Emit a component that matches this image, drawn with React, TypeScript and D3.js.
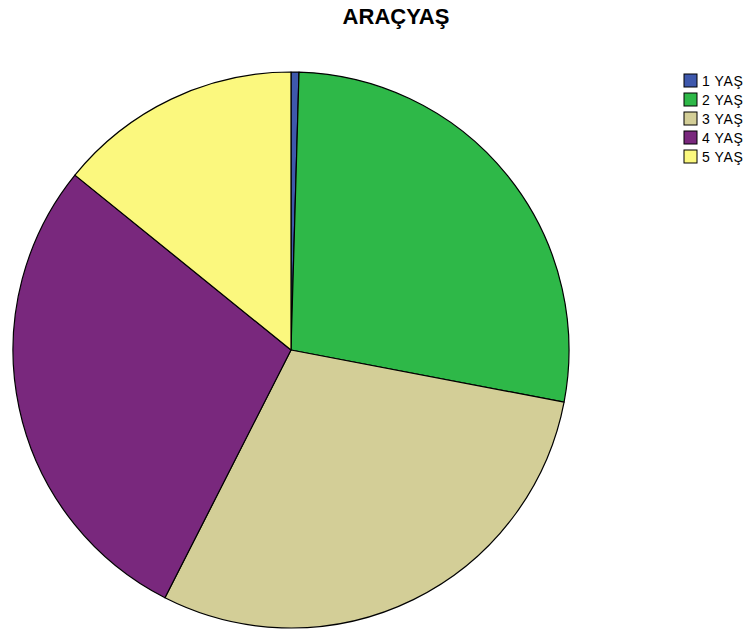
import React from "react";
import * as d3 from "d3";

const categories = ["1 YAŞ", "2 YAŞ", "3 YAŞ", "4 YAŞ", "5 YAŞ"];
const values = [0.46, 27.54, 29.49, 28.34, 14.17];
const colors = ["#3E58AC", "#2EB848", "#D3CE97", "#79287D", "#FBF87E"];
const title = "ARAÇYAŞ";

export default function App() {
  const width = 750;
  const height = 632;
  const cx = 291;
  const cy = 350;
  const r = 278;
  const pie = d3.pie<number>().sort(null).value((d) => d)(values);
  const arc = d3.arc<d3.PieArcDatum<number>>().innerRadius(0).outerRadius(r);
  return (
    <svg
      width={width}
      height={height}
      style={{ position: "absolute", left: 0, top: 0, background: "#fff" }}
      fontFamily="Arial, 'Liberation Sans', sans-serif"
    >
      <text x={396} y={24} textAnchor="middle" fontSize={22} fontWeight="bold" fill="#000">
        {title}
      </text>
      <g transform={`translate(${cx},${cy})`}>
        {pie.map((p, i) => (
          <path key={i} d={arc(p) || ""} fill={colors[i]} stroke="#000" strokeWidth={1.2} strokeLinejoin="round" />
        ))}
      </g>
      <g transform="translate(684,74)">
        {categories.map((c, i) => (
          <g key={c} transform={`translate(0,${i * 19})`}>
            <rect x={0} y={0} width={13} height={13} fill={colors[i]} stroke="#000" strokeWidth={1} />
            <text x={18} y={12} fontSize={14} letterSpacing={0.6} fill="#000">
              {c}
            </text>
          </g>
        ))}
      </g>
    </svg>
  );
}
